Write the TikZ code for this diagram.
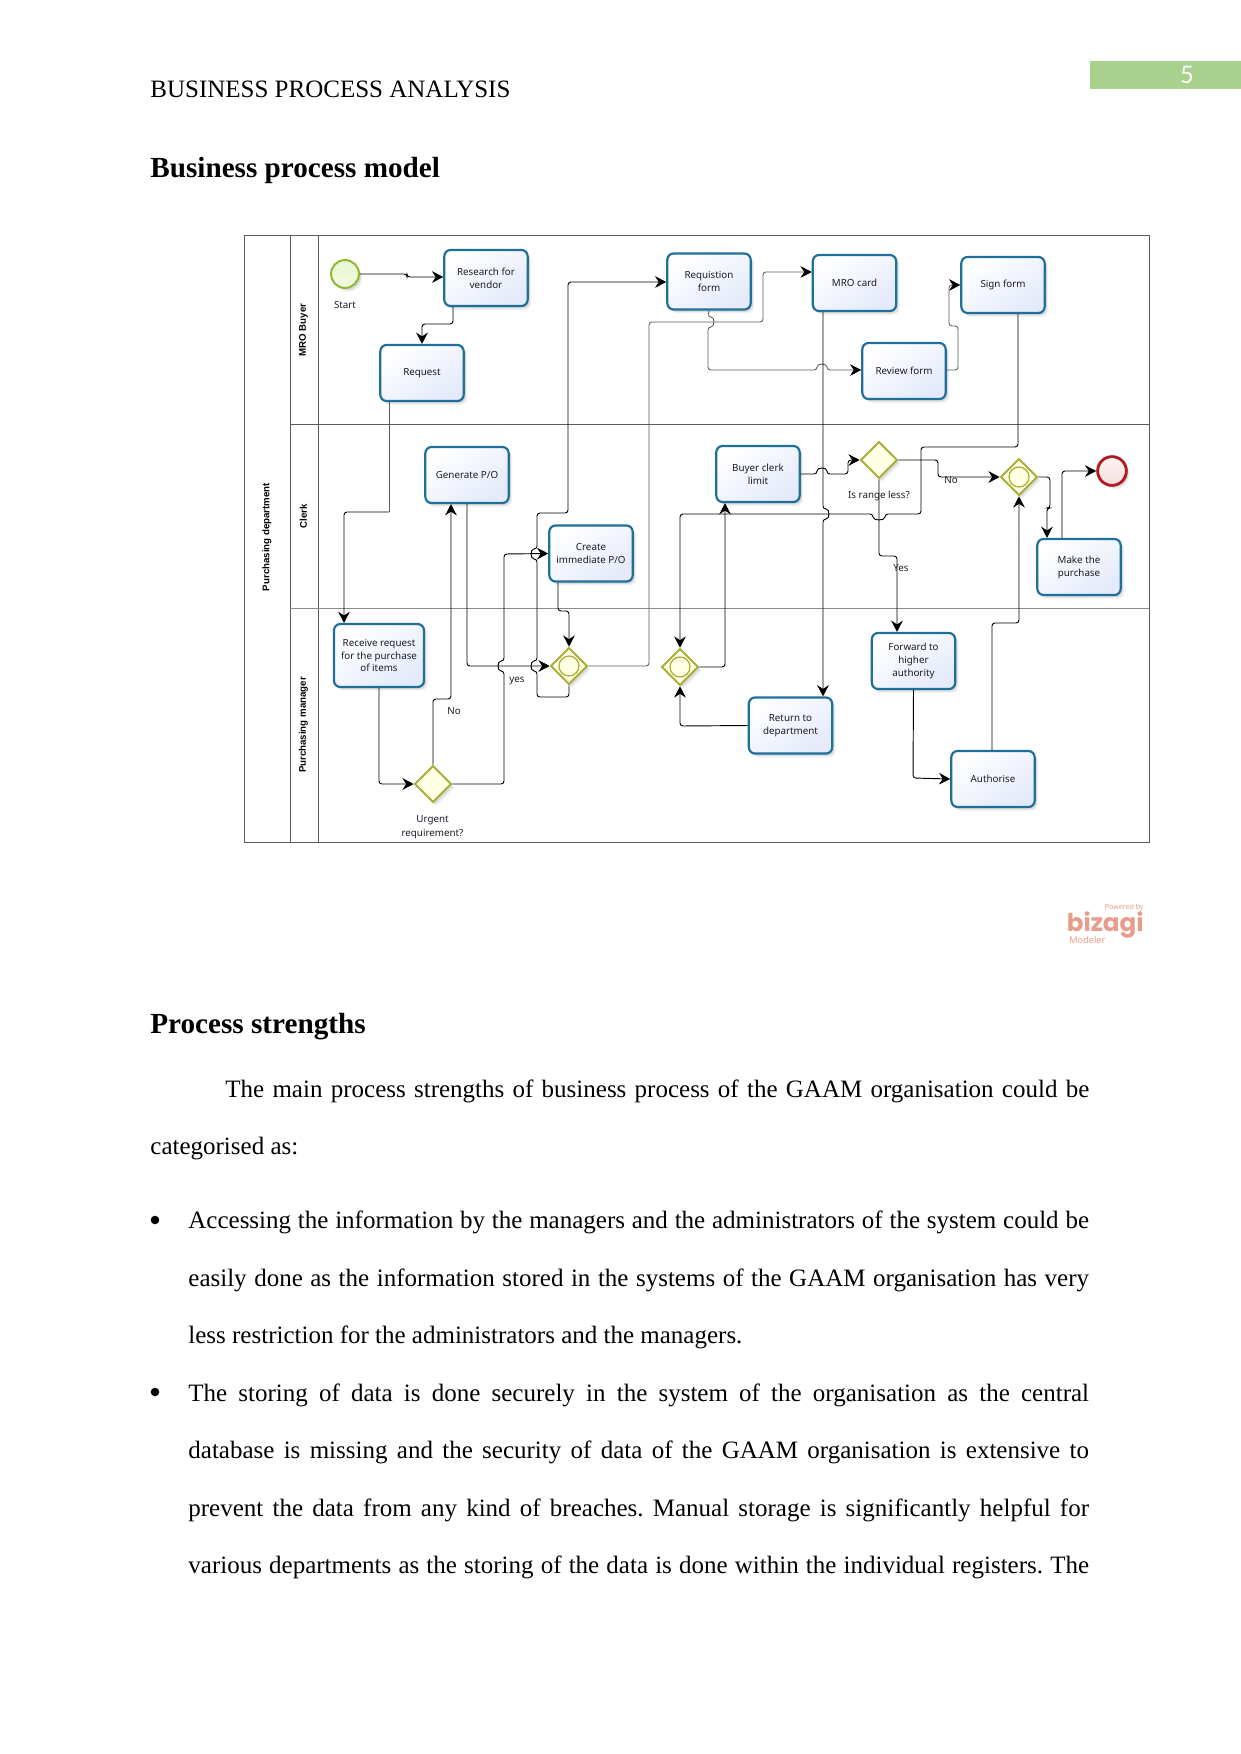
\documentclass[tikz,border=0pt]{standalone}
\usepackage{fontspec}
\setmainfont{Liberation Serif}
\newfontfamily\diagramfont{Noto Sans}
\newfontfamily\lanefont{Liberation Sans}
\newfontfamily\pagenofont{Carlito}
\newfontfamily\logofont{Poppins}
\usetikzlibrary{arrows.meta,shapes.geometric,shadows,calc}

\definecolor{taskblue}{HTML}{1F6F9B}
\definecolor{taskfill}{HTML}{E4EAFA}
\definecolor{gateedge}{HTML}{A8AE38}
\definecolor{gatefill}{HTML}{FFFFE4}
\definecolor{startedge}{HTML}{8CB82C}
\definecolor{startfill}{HTML}{EAF6D2}
\definecolor{endedge}{HTML}{AE1A20}
\definecolor{endfill}{HTML}{F6DCDC}
\definecolor{laneline}{HTML}{5A5A5A}
\definecolor{banner}{HTML}{A9D18E}
\definecolor{logocol}{HTML}{E89C8C}
\definecolor{inktext}{HTML}{1C1C28}

% Horizontal run with a hop over a crossing line
\newcommand\hopup[2]{-- (#1-5,#2) .. controls (#1-5,#2-7) and (#1+5,#2-7) .. (#1+5,#2)}
\newcommand\hopdownleft[2]{-- (#1+6,#2) .. controls (#1+6,#2+7) and (#1-6,#2+7) .. (#1-6,#2)}
% Vertical run with a hop to one side of a crossing line
\newcommand\hopgoingup[2]{-- (#1,#2+5) .. controls (#1-7,#2+5) and (#1-7,#2-5) .. (#1,#2-5)}
\newcommand\hopgoingdown[2]{-- (#1,#2-5) .. controls (#1+7,#2-5) and (#1+7,#2+5) .. (#1,#2+5)}
% One justified line of running text
\newcommand\fitline[2]{\hbox to #1pt{#2}}

\tikzset{
  softshadow/.style={
    general shadow={shadow xshift=1.6pt,shadow yshift=-1.8pt,fill=black,opacity=.06},
    general shadow={shadow xshift=1.0pt,shadow yshift=-1.1pt,fill=black,opacity=.09}},
  taskbox/.style={draw=taskblue,line width=1.05pt,rounded corners=3pt,softshadow,
    top color=white,bottom color=taskfill,shading angle=35,
    minimum width=40pt,minimum height=26.9pt,inner sep=0pt,align=center,
    text=inktext,font=\diagramfont\fontsize{4.7}{6.2}\selectfont},
  gate/.style={diamond,draw=gateedge,line width=.95pt,fill=gatefill,softshadow,
    minimum width=17.6pt,minimum height=17.6pt,inner sep=0pt},
  gatering/.style={circle,draw=gateedge,line width=.6pt,minimum size=9.6pt,inner sep=0pt},
  flow/.style={draw=black,line width=.45pt,rounded corners=1.4pt},
  flowlight/.style={draw=black!65,line width=.4pt,rounded corners=1.4pt},
  tip/.style={-{Stealth[length=5.4pt,width=5.6pt,inset=1.8pt,color=black]}},
  caption/.style={inner sep=0pt,align=center,text=inktext,font=\diagramfont\fontsize{4.7}{6.6}\selectfont},
  lanetitle/.style={inner sep=0pt,rotate=90,font=\lanefont\bfseries\fontsize{4.65}{5.5}\selectfont},
  bodyline/.style={anchor=base west,inner sep=0pt,font=\fontsize{12}{14}\selectfont},
  headline/.style={anchor=base west,inner sep=0pt,font=\bfseries\fontsize{14}{16}\selectfont},
  lanerule/.style={draw=laneline,line width=.4pt}
}

\begin{document}
\frenchspacing
\begin{tikzpicture}[x=0.48pt,y=-0.48pt]
\useasboundingbox (0,0) rectangle (1241,1754);
\fill[white] (0,0) rectangle (1241,1754);

% Running head and page number
\fill[banner] (1090,61) rectangle (1241,89);
\node[inner sep=0pt,text=white!92!banner,font=\pagenofont\fontsize{13}{15}\selectfont] (pageno) at (1187,75) {5};
\node[bodyline] (runhead) at (150,97) {BUSINESS PROCESS ANALYSIS};
\node[headline] (head1) at (150,177) {Business process model};

% Pool and lanes
\draw[lanerule] (244,235) rectangle (1149,842);
\draw[lanerule] (290,235) -- (290,842);
\draw[lanerule] (318.3,235) -- (318.3,842);
\draw[lanerule] (290,424) -- (1149,424);
\draw[lanerule,draw=black!45] (290,608) -- (1149,608);
\node[lanetitle] (pool) at (267,537) {Purchasing department};
\node[lanetitle] (lane1) at (303.5,330) {MRO Buyer};
\node[lanetitle] (lane2) at (303.5,516) {Clerk};
\node[lanetitle] (lane3) at (303.5,725) {Purchasing manager};

% Events
\node[circle,draw=startedge,line width=.95pt,minimum size=13.4pt,inner sep=0pt,softshadow,
  top color=startfill,bottom color=startfill!70!white] (start) at (345,274) {};
\node[caption] (startcap) at (345,305) {Start};
\node[circle,draw=endedge,line width=1.35pt,minimum size=13.8pt,inner sep=0pt,softshadow,
  top color=white!70!endfill,bottom color=endfill] (finish) at (1112,471) {};

% Tasks
\node[taskbox] (research) at (486,278) {Research for\\vendor};
\node[taskbox] (request) at (422,373) {Request};
\node[taskbox] (requisition) at (709,281.5) {Requistion\\form};
\node[taskbox] (mro) at (854.5,283) {MRO card};
\node[taskbox] (signform) at (1003,285) {Sign form};
\node[taskbox] (review) at (904,371) {Review form};
\node[taskbox] (generate) at (467,475) {Generate P/O};
\node[taskbox] (buyer) at (758,474) {Buyer clerk\\limit};
\node[taskbox] (create) at (591,553.5) {Create\\immediate P/O};
\node[taskbox,minimum width=43.2pt,minimum height=30.2pt] (receive) at (379,655.5) {Receive request\\for the purchase\\of items};
\node[taskbox] (purchase) at (1079,567) {Make the\\purchase};
\node[taskbox] (forward) at (913.5,661) {Forward to\\higher\\authority};
\node[taskbox] (returndep) at (790.5,725.5) {Return to\\department};
\node[taskbox] (authorise) at (993,779) {Authorise};

% Gateways
\node[gate] (urgent) at (433,784) {};
\node[gate] (rangecheck) at (879,460) {};
\node[gate] (g1) at (569,666) {};
\node[gatering] (g1ring) at (569,666) {};
\node[gate] (g2) at (680,667) {};
\node[gatering] (g2ring) at (680,667) {};
\node[gate] (g3) at (1019,477) {};
\node[gatering] (g3ring) at (1019,477) {};

% Bend points where a connector changes tone
\coordinate (reqbend) at (389,512);
\coordinate (g1bend) at (649,322);

% Sequence flows
\draw[flow,tip] (start.east) -- (407,274) -- (407,277) -- (research.west |- 0,277);
\draw[flow,tip] (research.south -| 453,0) -- (453,324) -- (422,324) -- (request.north);
\draw[flowlight] (request.south -| 389,0) -- (reqbend);
\draw[flow,tip] (reqbend) -- (344,512) -- (receive.north -| 344,0);
\draw[flow,tip] (receive.south) -- (379,784) -- (urgent.west);
\draw[flow,tip] (urgent.north) -- (433,699) -- (451,699) -- (generate.south -| 451,0);
\draw[flow,tip] (urgent.east) -- (504,784) \hopgoingup{504}{666} -- (504,554) -- (create.west);
\draw[flow,tip] (generate.south) -- (467,666) -- (g1.west);
\draw[flow,tip] (create.south -| 558,0) -- (558,611) -- (569,611) -- (g1.north);
\draw[flow,tip] (g1.south) -- (569,697) -- (537,697) \hopgoingup{537}{666} \hopgoingup{537}{554} -- (537,513) -- (568,513) -- (568,282) -- (requisition.west |- 0,282);
\draw[flowlight,tip] (g1.east) -- (649,666) -- (g1bend) -- (763,322) -- (763,272) -- (mro.west |- 0,272);
\draw[flowlight,tip] (requisition.south) \hopgoingdown{708}{322} -- (708,370) \hopup{822}{370} -- (review.west |- 0,370);
\draw[flowlight,tip] (review.east |- 0,370) -- (958,370) -- (958,326) -- (949,326) -- (949,285) -- (signform.west);
\draw[flow,tip] (mro.south -| 823,0) \hopgoingdown{823}{514} -- (returndep.north -| 823,0);
\draw[flow,tip] (returndep.west) -- (680,726) -- (g2.south);
\draw[flow,tip] (signform.south -| 1018,0) -- (1018,447) -- (921,447) -- (921,514) \hopdownleft{879}{514} -- (680,514) -- (g2.north);
\draw[flow,tip] (g2.east) -- (725,667) -- (buyer.south -| 725,0);
\draw[flow,tip] (buyer.east) \hopup{822}{474} -- (848,474) -- (848,460) -- (rangecheck.west);
\draw[flow,tip] (rangecheck.east) -- (938,460) -- (938,477) -- (g3.west);
\draw[flow,tip] (rangecheck.south) -- (879,556) -- (897,556) -- (forward.north -| 897,0);
\draw[flow,tip] (forward.south) -- (913,778) -- (authorise.west);
\draw[flow,tip] (authorise.north -| 992,0) -- (992,623) -- (1019,623) -- (g3.south);
\draw[flow,tip] (g3.east) -- (1050,477) -- (1050,508) -- (1047,508) -- (purchase.north -| 1047,0);
\draw[flow,tip] (purchase.north -| 1062,0) -- (1062,471) -- (finish.west);

% Gateway and flow captions
\node[caption] (urgentcap) at (432.5,827) {Urgent\\requirement?};
\node[caption] (rangecap) at (879,496) {Is range less?};
\node[caption] (nocap1) at (454,711) {No};
\node[caption] (yescap1) at (517,681) {yes};
\node[caption] (nocap2) at (951,480) {No};
\node[caption] (yescap2) at (901,568) {Yes};

% Modeller mark
\node[anchor=east,inner sep=0pt,text=logocol,font=\diagramfont\fontsize{3.4}{4}\selectfont] (powered) at (1144,908) {Powered by};
\node[anchor=base east,inner sep=0pt,text=logocol,font=\logofont\bfseries\fontsize{11.8}{14}\selectfont] (bizagi) at (1144,931) {bizagi};
\node[anchor=west,inner sep=0pt,text=logocol,font=\diagramfont\fontsize{4.4}{5}\selectfont] (modeler) at (1069,940) {Modeler};

% Text below the diagram
\node[headline] (head2) at (150,1033) {Process strengths};
\node[bodyline] (t1) at (225,1097) {\fitline{414.7}{The main process strengths of business process of the GAAM organisation could be}};
\node[bodyline] (t2) at (150,1154) {categorised as:};
\fill[black] (155,1220) circle[radius=4.3] (155,1392) circle[radius=4.3];
\node[bodyline] (t3) at (188,1228) {\fitline{432.3}{Accessing the information by the managers and the administrators of the system could be}};
\node[bodyline] (t4) at (188,1286) {\fitline{432.3}{easily done as the information stored in the systems of the GAAM organisation has very}};
\node[bodyline] (t5) at (188,1343.5) {less restriction for the administrators and the managers.};
\node[bodyline] (t6) at (188,1401) {\fitline{432.3}{The storing of data is done securely in the system of the organisation as the central}};
\node[bodyline] (t7) at (188,1458) {\fitline{432.3}{database is missing and the security of data of the GAAM organisation is extensive to}};
\node[bodyline] (t8) at (188,1516) {\fitline{432.3}{prevent the data from any kind of breaches. Manual storage is significantly helpful for}};
\node[bodyline] (t9) at (188,1573) {\fitline{432.3}{various departments as the storing of the data is done within the individual registers. The}};
\end{tikzpicture}
\end{document}
